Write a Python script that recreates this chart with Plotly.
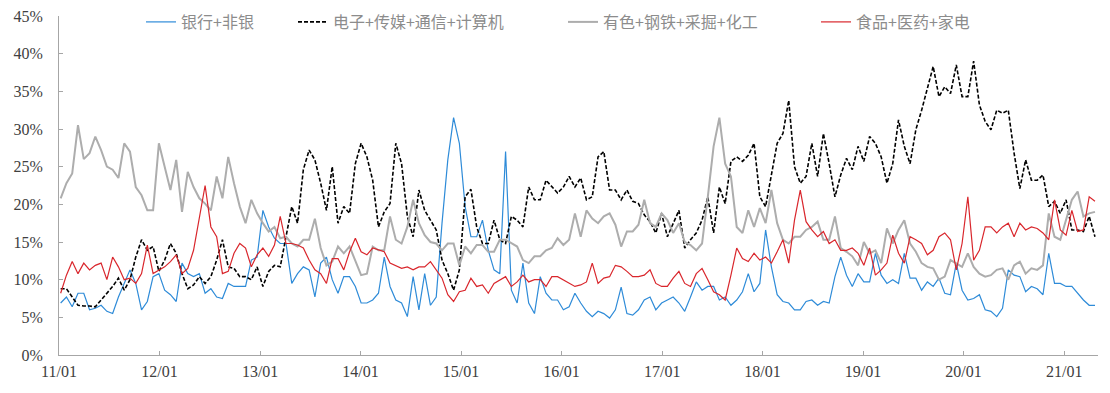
import pandas as pd
import plotly.graph_objects as go

# 3-weekly observation dates
dates = pd.date_range("2011-01-07", periods=180, freq="21D")

bank = [6.9,7.7,6.4,8.2,8.2,6.0,6.2,6.6,5.8,5.5,7.7,9.5,11.3,9.5,6.0,7.1,10.4,10.8,8.6,8.0,
        7.1,12.2,10.8,10.4,10.8,8.2,8.8,7.7,7.5,9.5,9.1,9.1,9.1,12.6,13.0,19.2,17.0,15.5,14.8,14.8,
        9.5,10.8,11.7,11.3,7.7,12.2,13.0,10.0,8.2,10.4,10.4,9.1,6.9,6.9,7.3,8.2,13.0,9.1,7.3,6.9,
        5.1,10.4,6.0,10.8,6.6,7.7,17.5,25.9,31.5,28.1,19.7,15.7,15.7,17.9,13.9,11.3,10.8,27.0,8.6,6.9,
        12.2,6.9,5.5,10.4,8.2,7.3,7.3,6.0,6.4,8.2,6.9,5.8,5.1,5.8,5.5,4.9,6.0,9.0,5.5,5.3,
        6.0,7.3,7.7,6.0,6.9,7.3,7.7,6.9,5.8,7.7,9.7,8.6,9.1,9.1,7.3,7.7,6.6,7.3,8.4,10.8,
        8.4,9.5,16.6,11.7,8.0,7.1,6.9,6.0,6.0,7.1,7.3,6.6,7.1,6.9,10.4,13.0,10.6,9.1,10.8,9.7,
        9.7,13.5,10.6,9.5,10.0,9.5,13.5,10.2,10.2,8.6,9.7,9.1,10.2,8.2,8.0,12.2,8.6,7.3,7.5,8.0,
        6.0,5.8,5.1,6.2,11.3,10.6,10.4,8.4,9.1,8.8,8.0,13.5,9.5,9.5,9.1,9.1,8.2,7.3,6.6,6.6]

tech = [8.8,8.8,7.7,6.6,6.5,6.5,6.4,7.3,8.2,9.1,10.2,8.6,10.0,13.0,15.3,13.9,14.4,11.1,12.6,14.8,
        13.5,10.8,8.8,9.3,10.4,9.5,10.4,12.6,15.3,11.7,11.5,10.4,10.4,10.0,11.7,9.1,11.1,11.9,11.7,15.7,
        19.7,17.5,24.6,27.2,25.9,22.8,19.2,25.0,17.5,19.7,18.8,25.4,28.1,26.3,23.2,17.0,19.0,20.1,28.1,25.4,
        18.4,15.7,21.9,19.2,17.9,16.6,12.6,10.8,8.6,11.3,21.0,22.0,17.0,14.8,14.8,17.9,15.3,14.8,18.4,17.9,
        17.0,22.3,20.6,20.6,23.2,22.3,21.5,22.3,23.7,22.3,23.5,20.6,21.0,26.3,27.0,21.9,21.9,20.6,21.9,20.4,
        20.1,18.6,17.7,16.2,18.8,15.7,17.5,19.2,14.2,15.3,16.2,17.9,21.0,16.2,22.3,20.1,25.7,26.3,25.7,26.5,
        28.1,21.0,19.7,23.7,28.1,29.4,33.8,25.0,22.8,23.7,28.1,23.7,29.4,25.4,21.0,23.9,26.1,24.6,27.7,25.7,
        29.0,28.1,26.3,22.8,25.4,31.2,27.7,25.4,29.9,32.5,35.6,38.3,34.3,35.6,34.7,38.5,34.3,34.3,39.0,33.2,
        31.0,29.9,32.5,32.1,32.5,26.8,22.1,25.9,23.2,23.2,23.9,19.7,20.4,18.8,20.6,16.6,16.6,16.4,18.4,15.7]

cyclic = [20.8,22.8,24.1,30.5,26.0,26.8,29.0,27.2,25.0,24.6,23.5,28.1,27.0,22.3,21.2,19.2,19.2,28.1,25.0,21.9,
          25.9,19.0,24.3,22.3,20.8,20.1,19.2,23.7,20.8,26.3,22.8,19.7,17.5,20.6,18.8,17.5,16.4,17.0,15.5,15.7,
          14.8,14.4,15.3,15.3,18.1,14.2,11.9,12.4,14.4,13.5,14.4,12.6,10.6,10.8,14.4,13.9,13.9,18.4,15.3,14.8,
          17.0,20.6,17.5,15.9,15.0,14.8,13.9,14.8,14.8,11.9,14.4,13.5,14.6,14.6,13.7,13.7,15.3,15.3,14.8,14.4,
          12.6,12.2,13.1,13.1,13.9,14.2,15.5,14.6,15.3,18.8,15.7,19.2,18.1,17.5,18.4,18.8,17.3,14.4,16.4,16.4,
          17.3,20.6,17.5,17.0,18.8,17.9,16.2,17.5,15.0,14.6,13.9,14.8,21.0,27.7,31.5,25.4,23.7,17.0,16.2,19.2,
          17.0,19.5,17.5,21.9,17.5,15.3,14.8,15.7,15.7,16.6,17.0,17.7,15.3,15.3,18.4,14.2,13.7,13.1,11.9,15.0,
          13.5,13.9,12.2,16.8,14.8,16.6,17.9,14.8,13.7,12.2,11.7,11.5,10.0,10.4,12.6,12.2,11.7,13.5,11.7,10.8,
          10.4,10.6,11.3,11.5,10.0,11.9,12.4,10.8,11.5,11.3,11.9,18.8,15.7,15.3,18.1,20.6,21.7,18.4,18.8,19.0]

consumer = [8.2,10.6,12.4,10.8,12.2,11.3,11.9,12.2,10.0,13.0,11.7,10.0,10.2,9.5,10.8,14.6,10.8,11.3,11.7,12.4,
            13.3,10.8,11.5,13.9,18.4,22.5,17.0,15.7,10.8,11.1,13.5,14.8,14.2,11.7,13.3,14.2,13.1,14.6,18.4,14.8,
            14.8,14.6,14.2,12.6,11.3,10.8,9.5,12.8,12.8,11.3,13.7,15.5,13.7,13.3,14.2,13.9,13.7,12.2,11.9,11.5,
            11.7,11.3,11.7,11.7,12.4,11.3,10.2,8.0,7.1,8.4,8.6,10.2,9.1,9.3,8.2,9.5,10.0,10.4,9.1,9.7,
            10.6,9.7,10.0,10.0,9.1,10.4,10.4,10.0,9.5,9.1,9.3,9.7,12.2,9.5,10.2,10.4,11.9,11.7,11.1,10.4,
            10.4,10.6,11.3,9.5,9.1,9.1,10.2,11.1,9.5,9.1,10.8,11.5,10.0,8.4,8.0,7.3,10.6,14.2,12.8,12.4,
            13.5,12.6,13.0,12.2,13.7,15.3,12.2,17.9,21.9,17.7,16.6,15.7,16.4,14.8,15.3,13.9,13.9,14.2,13.5,11.9,
            14.2,10.6,11.3,12.2,15.9,13.5,12.2,15.7,15.3,14.8,13.3,13.9,15.7,16.2,15.3,11.3,14.8,21.0,12.6,13.9,
            17.0,17.0,16.2,17.0,17.5,15.7,17.5,16.6,17.0,16.8,16.2,15.3,20.6,16.6,15.9,19.2,16.4,16.6,21.0,20.4]

names = ["银行+非银", "电子+传媒+通信+计算机", "有色+钢铁+采掘+化工", "食品+医药+家电"]
colors = ["#2E8BD8", "#000000", "#ADADAD", "#D9262C"]
series = [bank, tech, cyclic, consumer]
widths = [1.2, 1.6, 2.0, 1.2]
dashes = ["solid", "4px,2px", "solid", "solid"]
legend_ids = ["legend", "legend2", "legend3", "legend4"]
legend_x = [133, 285, 555, 808]

fig = go.Figure()
for nm, col, ys, w, d, lg in zip(names, colors, series, widths, dashes, legend_ids):
    fig.add_trace(go.Scatter(x=dates, y=ys, mode="lines", name=nm,
                             line=dict(color=col, width=w, dash=d), legend=lg))

axis_col = "#A6A6A6"
tick_font = dict(family="Liberation Serif, Times New Roman, serif", size=16, color="#404040")

legend_common = dict(orientation="h", xref="container", yref="container", xanchor="left",
                     yanchor="middle", y=1 - 14 / 393, bgcolor="rgba(0,0,0,0)",
                     font=dict(family="Noto Sans CJK SC", size=16, color="#8C8C8C"),
                     itemwidth=30)
layout_legends = {}
for lg, lx in zip(legend_ids, legend_x):
    layout_legends[lg] = dict(legend_common, x=lx / 1110)

fig.update_layout(
    width=1110, height=393,
    margin=dict(l=51, r=20, t=8, b=46, autoexpand=False),
    plot_bgcolor="white", paper_bgcolor="white",
    showlegend=True,
    **layout_legends,
)
fig.update_xaxes(type="date", range=["2011-01-01", "2021-05-04"],
                 tick0="2011-01-01", dtick="M12", tickformat="%y/%m",
                 showgrid=False, zeroline=False,
                 showline=True, linecolor=axis_col, linewidth=1,
                 ticks="inside", ticklen=4, tickcolor=axis_col,
                 tickfont=tick_font, ticklabelstandoff=2,
                 ticklabeloverflow="allow")
fig.update_yaxes(range=[0, 45], dtick=5, ticksuffix="%",
                 showgrid=False, zeroline=False,
                 showline=True, linecolor=axis_col, linewidth=1,
                 ticks="inside", ticklen=4, tickcolor=axis_col,
                 tickfont=tick_font, ticklabelstandoff=12,
                 ticklabeloverflow="allow")

fig.write_html("out.html")
